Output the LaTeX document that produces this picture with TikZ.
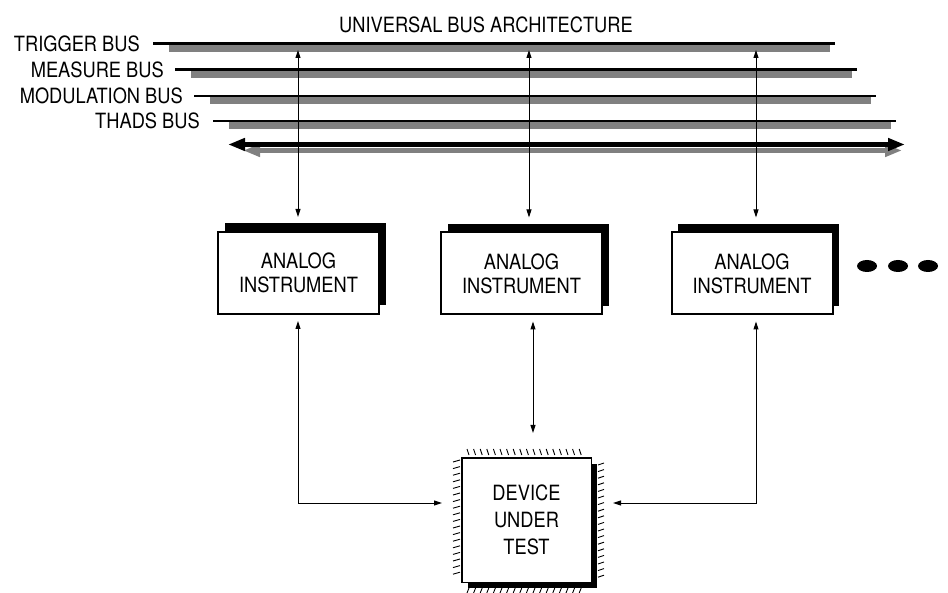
\documentclass[tikz,border=0pt]{standalone}
\usepackage{fontspec}
\setmainfont{TeX Gyre Heros}[FakeStretch=0.87]
\usetikzlibrary{arrows.meta,shadows}
\definecolor{busgray}{gray}{0.5}
\begin{document}
\begin{tikzpicture}[x=1pt,y=-1pt,
  every node/.style={font=\fontsize{21}{24}\selectfont, inner sep=0pt},
  lbl/.style={anchor=east},
  busline/.style={line width=2.5pt},
  busbar/.style={fill=busgray},
  conn/.style={line width=1pt, {Triangle[length=8pt,width=5pt]}-{Triangle[length=8pt,width=5pt]}},
  ibox/.style={draw, line width=2pt, fill=white, align=center,
    minimum width=161pt, minimum height=82pt,
    general shadow={fill=black, shadow xshift=6.5pt, shadow yshift=8.5pt}},
  dutbox/.style={draw, line width=1.5pt, fill=white, align=center,
    minimum width=129.5pt, minimum height=124.5pt,
    general shadow={fill=black, shadow xshift=6pt, shadow yshift=-6pt}},
  pin/.style={line width=0.9pt}]
\useasboundingbox (0,0) rectangle (948,593);

% title
\node (title) at (486,24.5) {UNIVERSAL BUS ARCHITECTURE};

% the four buses: gray bar under a black line
\foreach \nm/\txt/\y/\xs/\xe/\xl in {trig/TRIGGER BUS/43.5/153/835/140,
                                     meas/MEASURE BUS/69.5/175/857/164,
                                     modu/MODULATION BUS/96/194/876/183,
                                     thads/THADS BUS/121/213/896/200}{
  \fill[busbar] (\xs+16,\y+1.5) rectangle (\xe-5,\y+8.5);
  \coordinate (\nm-a) at (\xs,\y);
  \coordinate (\nm-b) at (\xe,\y);
  \draw[busline] (\nm-a) -- (\nm-b);
  \node[lbl] (\nm-lbl) at (\xl,\y) {\txt};
}

% bidirectional system bus with its gray shadow
\coordinate (sys-sa) at (243,150.5);
\coordinate (sys-sb) at (902,150.5);
\draw[busgray, line width=5pt, {Triangle[length=17pt,width=12pt]}-{Triangle[length=17pt,width=12pt]}] (sys-sa) -- (sys-sb);
\coordinate (sys-a) at (228,144.5);
\coordinate (sys-b) at (905,144.5);
\draw[line width=5pt, {Triangle[length=17pt,width=12pt]}-{Triangle[length=17pt,width=12pt]}] (sys-a) -- (sys-b);

% instruments
\node[ibox] (box1) at (298.5,273) {ANALOG\\INSTRUMENT};
\node[ibox] (box2) at (521.5,273.5) {ANALOG\\INSTRUMENT};
\node[ibox] (box3) at (752,273.5) {ANALOG\\INSTRUMENT};

% more instruments
\fill (867,266) ellipse [x radius=10, y radius=6];
\fill (898,266) ellipse [x radius=10, y radius=6];
\fill (928,266) ellipse [x radius=10, y radius=6];

% taps from the bus to each instrument
\coordinate (tap1) at (298,50);
\coordinate (tap2) at (529,50);
\coordinate (tap3) at (756,50);
\draw[conn] (tap1) -- ([xshift=-0.5pt,yshift=14pt]box1.north);
\draw[conn] (tap2) -- ([xshift=7.5pt,yshift=14pt]box2.north);
\draw[conn] (tap3) -- ([xshift=4pt,yshift=14pt]box3.north);

% device under test with its pins
\node[dutbox] (dut) at (526.5,520) {DEVICE\\[3pt]UNDER\\[3pt]TEST};
\foreach \i in {0,...,17}{
  \draw[pin] (467+6.6*\i,449) -- (469+6.6*\i,455);
  \draw[pin] (467+6.6*\i,593) -- (469+6.6*\i,588);
  \draw[pin] (453,462+6.6*\i) -- (460,460+6.6*\i);
  \draw[pin] (598,465+6.6*\i) -- (604,463+6.6*\i);
}

% instrument to device links
\draw[conn] ([xshift=-0.5pt,yshift=-6pt]box1.south) |- ([xshift=-19pt,yshift=17pt]dut.west);
\draw[conn] ([xshift=11.5pt,yshift=-6pt]box2.south) -- ([xshift=6.5pt,yshift=24pt]dut.north);
\draw[conn] ([xshift=4pt,yshift=-6pt]box3.south) |- ([xshift=21pt,yshift=17pt]dut.east);
\end{tikzpicture}
\end{document}
